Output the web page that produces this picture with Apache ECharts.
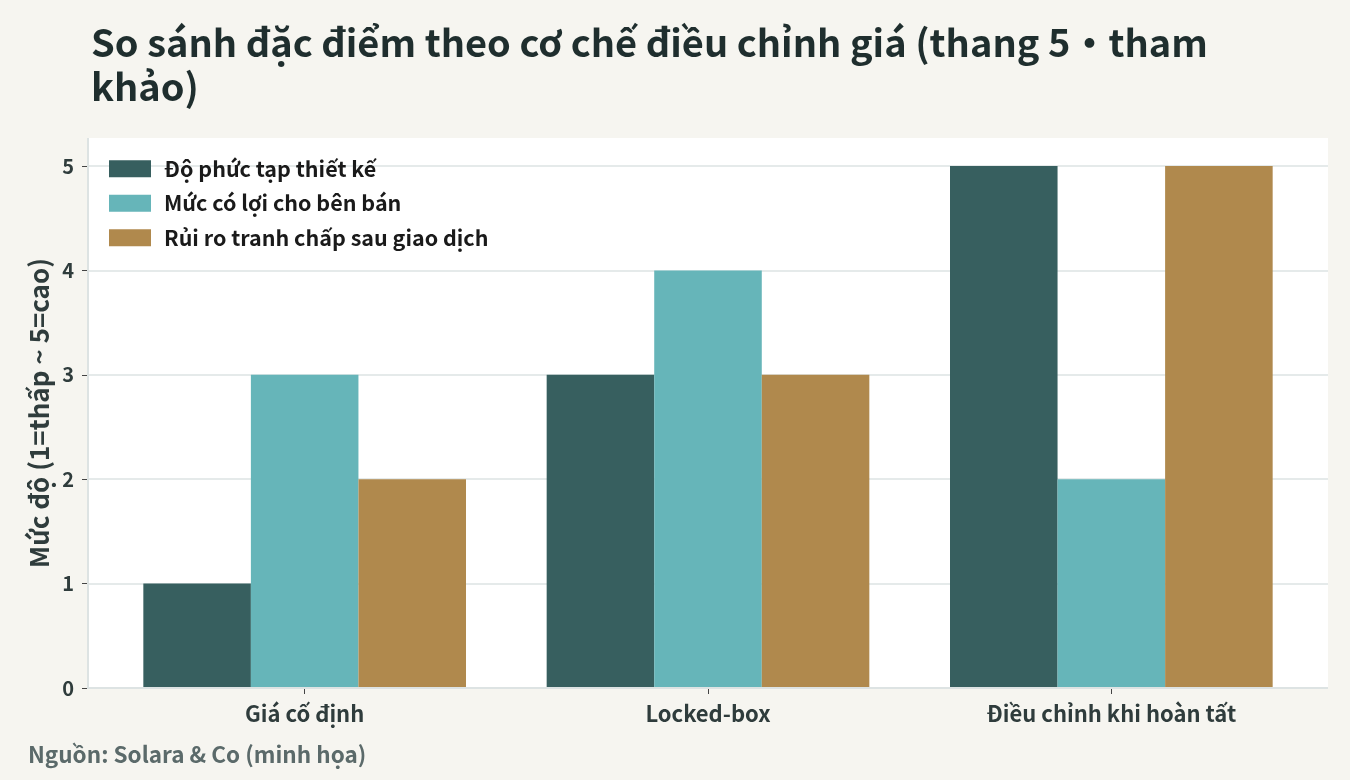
<!DOCTYPE html>
<html><head><meta charset="utf-8">
<script src="https://cdn.jsdelivr.net/npm/echarts@6/dist/echarts.min.js"></script>
<style>html,body{margin:0;padding:0;background:#f6f5f0;}#c{width:1350px;height:780px;}</style>
</head><body><div id="c"></div>
<script>
const titleText = "So sánh đặc điểm theo cơ chế điều chỉnh giá (thang 5・tham\nkhảo)";
const yAxisName = "Mức độ (1=thấp ~ 5=cao)";
const sourceText = "Nguồn: Solara & Co (minh họa)";
const categories = ["Giá cố định", "Locked-box", "Điều chỉnh khi hoàn tất"];
const seriesNames = ["Độ phức tạp thiết kế", "Mức có lợi cho bên bán", "Rủi ro tranh chấp sau giao dịch"];
const complexity = [1, 3, 5];
const sellerFavor = [3, 4, 2];
const disputeRisk = [2, 3, 5];
const yTicks = [0, 1, 2, 3, 4, 5];
const colors = ["#375f5f", "#66b5b9", "#b0894d"];
const FONT = "'Noto Sans CJK SC','Noto Sans',sans-serif";
const LABEL = '#2f3c3c';
const GRIDC = '#dde3e3';

const chart = echarts.init(document.getElementById('c'));
const values = [complexity, sellerFavor, disputeRisk];
chart.setOption({
  backgroundColor: '#f6f5f0',
  textStyle: {fontFamily: FONT},
  title: {
    text: titleText, left: 86, top: 16,
    textStyle: {fontFamily: FONT, fontSize: 38, fontWeight: 'bold', color: '#1f2e2e', lineHeight: 44}
  },
  graphic: [
    {type: 'rect', z: -100, shape: {x: 88, y: 138, width: 1240, height: 550}, style: {fill: '#ffffff'}},
    {type: 'line', z: 50, shape: {x1: 88, y1: 138, x2: 88, y2: 689}, style: {stroke: GRIDC, lineWidth: 2}},
    {type: 'line', z: 50, shape: {x1: 88, y1: 688, x2: 1328, y2: 688}, style: {stroke: GRIDC, lineWidth: 2}},
    {type: 'text', x: 39, y: 413, rotation: Math.PI / 2,
     style: {text: yAxisName, font: "bold 26px " + FONT, fill: LABEL, align: 'center', verticalAlign: 'middle'}},
    {type: 'text', left: 28, top: 743,
     style: {text: sourceText, font: "bold 22.5px " + FONT, fill: '#5b6a6a'}}
  ],
  legend: {
    orient: 'vertical', left: 104, top: 153, itemWidth: 42, itemHeight: 17, itemGap: 13,
    icon: 'rect',
    textStyle: {fontFamily: FONT, fontSize: 21.5, fontWeight: 'bold', color: '#1a1a1a', padding: [0,0,0,8]},
    data: seriesNames
  },
  grid: [
    {left: 88, right: 22, top: 166, bottom: 92},
    {left: 103, right: 37, top: 166, bottom: 92}
  ],
  xAxis: [
    {type: 'value', gridIndex: 0, min: 0, max: 1, show: false},
    {type: 'category', gridIndex: 1, data: categories,
     axisLine: {show: false},
     axisTick: {show: true, alignWithLabel: true, length: 6, lineStyle: {color: '#444'}},
     axisLabel: {fontFamily: FONT, fontSize: 22, fontWeight: 'bold', color: LABEL, margin: 15}}
  ],
  yAxis: [
    {type: 'value', gridIndex: 0, min: 0, max: 5, interval: 1,
     axisLine: {show: false},
     axisTick: {show: true, length: 6, lineStyle: {color: '#444'}},
     axisLabel: {fontFamily: FONT, fontSize: 20, fontWeight: 'bold', color: LABEL, margin: 14,
       formatter: v => yTicks.includes(v) ? String(v) : ''},
     splitLine: {lineStyle: {color: GRIDC, width: 1.5}}},
    {type: 'value', gridIndex: 1, min: 0, max: 5, interval: 1, show: false, splitLine: {show: false}}
  ],
  series: seriesNames.map((n, i) => ({
    name: n, type: 'bar', data: values[i], barGap: '0%', barCategoryGap: '20%',
    xAxisIndex: 1, yAxisIndex: 1,
    itemStyle: {color: colors[i]}
  }))
});
</script></body></html>
